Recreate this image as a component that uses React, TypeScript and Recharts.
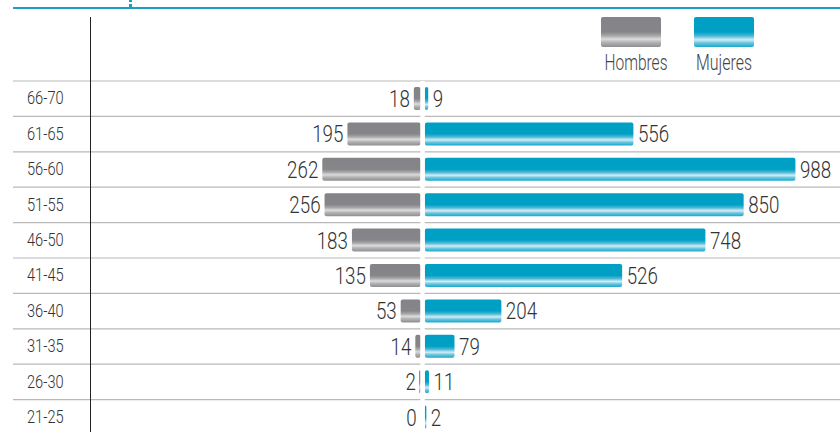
import React from "react";
import {
  BarChart,
  Bar,
  XAxis,
  YAxis,
  CartesianGrid,
  ReferenceLine,
  LabelList,
  Legend,
} from "recharts";

const ageGroups = ["66-70", "61-65", "56-60", "51-55", "46-50", "41-45", "36-40", "31-35", "26-30", "21-25"];
const hombres = [18, 195, 262, 256, 183, 135, 53, 14, 2, 0];
const mujeres = [9, 556, 988, 850, 748, 526, 204, 79, 11, 2];

const data = ageGroups.map((age, i) => ({
  age,
  hombresNeg: -hombres[i],
  mujeres: mujeres[i],
}));

// no condensed DIN here, so squeeze Roboto with textLength
const FONT = "Roboto, 'DejaVu Sans Condensed', sans-serif";
const TEXT = "#333333";
const DIGIT_W = 10.4;

const GRAY_CSS =
  "linear-gradient(to bottom, #848488 0%, #86868a 50%, #a6a6a8 62%, #dcdcdc 74%, #b4b4b6 84%, #8e8e92 100%)";
const BLUE_CSS =
  "linear-gradient(to bottom, #00a0c5 0%, #00a0c5 50%, #4db8d6 63%, #d2edf5 76%, #66c4de 87%, #1aa8cc 100%)";

function MenBar(props: any) {
  const { x, y, width, height, value } = props;
  const v = Array.isArray(value) ? value[1] - value[0] : value;
  if (!v) return null;
  const left = Math.min(x, x + width);
  const w = Math.max(Math.abs(width), 1.5);
  const right = left + Math.abs(width) - 2;
  return <rect x={right - w} y={y} width={w} height={height} rx={2} fill="url(#grayGrad)" />;
}

function WomenBar(props: any) {
  const { x, y, width, height, value } = props;
  const v = Array.isArray(value) ? value[1] - value[0] : value;
  if (!v) return null;
  const left = Math.min(x, x + width);
  const w = Math.max(Math.abs(width), 1.5);
  return <rect x={left + 2.3} y={y} width={w} height={height} rx={2} fill="url(#blueGrad)" />;
}

function ValueText({ x, y, anchor, label }: { x: number; y: number; anchor: "start" | "end"; label: string }) {
  return (
    <text
      x={x}
      y={y}
      textAnchor={anchor}
      fill={TEXT}
      fontSize={23}
      fontWeight={300}
      fontFamily={FONT}
      textLength={label.length * DIGIT_W}
      lengthAdjust="spacingAndGlyphs"
    >
      {label}
    </text>
  );
}

function MenLabel(props: any) {
  const { x, y, width, height, value } = props;
  const left = Math.min(x, x + width);
  return <ValueText x={left - 6} y={y + height / 2 + 8.5} anchor="end" label={String(Math.abs(value))} />;
}

function WomenLabel(props: any) {
  const { x, y, width, height, value } = props;
  const right = Math.max(x, x + width);
  const w = Math.max(Math.abs(width), 1.5);
  const end = value ? Math.min(x, x + width) + 2.3 + w : right + 2.3;
  return <ValueText x={end + 4.5} y={y + height / 2 + 8.5} anchor="start" label={String(value)} />;
}

function AgeTick(props: any) {
  const { x, y, payload } = props;
  return (
    <text
      x={x}
      y={y + 5.6}
      textAnchor="start"
      fill={TEXT}
      fontSize={17.5}
      fontWeight={300}
      fontFamily={FONT}
      textLength={36.6}
      lengthAdjust="spacingAndGlyphs"
    >
      {payload.value}
    </text>
  );
}

function Header(props: any) {
  const items = props.payload || [];
  const swatchLeft = [601, 694];
  const textW = [63, 56];
  return (
    <div style={{ position: "relative", width: 840, height: 81 }}>
      <div style={{ position: "absolute", left: 13, top: 7, width: 827, height: 2.2, background: "#1b9dc4" }} />
      <div style={{ position: "absolute", left: 129, top: 0, width: 3, height: 2, background: "#1b9dc4" }} />
      <div style={{ position: "absolute", left: 129, top: 4, width: 3, height: 4, background: "#1b9dc4" }} />
      {items.map((item: any, i: number) => (
        <div
          key={item.value}
          style={{
            position: "absolute",
            left: swatchLeft[i],
            top: 17,
            width: 60,
            height: 30,
            borderRadius: 2,
            background: item.dataKey === "mujeres" ? BLUE_CSS : GRAY_CSS,
          }}
        />
      ))}
      <svg width={840} height={81} style={{ position: "absolute", left: 0, top: 0 }}>
        {items.map((item: any, i: number) => (
          <text
            key={item.value}
            x={swatchLeft[i] + 30 + (i === 0 ? 5 : 0)}
            y={70}
            textAnchor="middle"
            fill="#444"
            fontSize={22}
            fontWeight={300}
            fontFamily={FONT}
            textLength={textW[i]}
            lengthAdjust="spacingAndGlyphs"
          >
            {item.value}
          </text>
        ))}
      </svg>
    </div>
  );
}

export default function App() {
  return (
    <div style={{ position: "absolute", left: 0, top: 0, width: 840, height: 432, overflow: "hidden", background: "#fff" }}>
      <BarChart
        width={840}
        height={435}
        data={data}
        layout="vertical"
        stackOffset="sign"
        barSize={23}
        margin={{ top: 0, right: 0, bottom: 0, left: 13 }}
      >
        <defs>
          <linearGradient id="grayGrad" x1="0" y1="0" x2="0" y2="1">
            <stop offset="0%" stopColor="#848488" />
            <stop offset="50%" stopColor="#86868a" />
            <stop offset="62%" stopColor="#a6a6a8" />
            <stop offset="74%" stopColor="#dcdcdc" />
            <stop offset="84%" stopColor="#b4b4b6" />
            <stop offset="100%" stopColor="#8e8e92" />
          </linearGradient>
          <linearGradient id="blueGrad" x1="0" y1="0" x2="0" y2="1">
            <stop offset="0%" stopColor="#00a0c5" />
            <stop offset="50%" stopColor="#00a0c5" />
            <stop offset="63%" stopColor="#4db8d6" />
            <stop offset="76%" stopColor="#d2edf5" />
            <stop offset="87%" stopColor="#66c4de" />
            <stop offset="100%" stopColor="#1aa8cc" />
          </linearGradient>
        </defs>
        <Legend verticalAlign="top" align="left" height={81} content={<Header />} wrapperStyle={{ top: 0, left: 0, width: 840, height: 81 }} />
        <CartesianGrid
          vertical={false}
          stroke="#b9b9b9"
          strokeWidth={1.2}
          horizontalCoordinatesGenerator={({ offset }: any) =>
            ageGroups.map((_, i) => offset.top + (i * offset.height) / ageGroups.length)
          }
        />
        <XAxis type="number" domain={[-1092, 1113]} hide allowDataOverflow />
        <YAxis
          type="category"
          dataKey="age"
          mirror
          axisLine={false}
          tickLine={false}
          tickSize={0}
          tickMargin={14}
          interval={0}
          tick={<AgeTick />}
        />
        <Bar dataKey="hombresNeg" name="Hombres" stackId="a" shape={<MenBar />} isAnimationActive={false}>
          <LabelList dataKey="hombresNeg" content={<MenLabel />} />
        </Bar>
        <Bar dataKey="mujeres" name="Mujeres" stackId="a" shape={<WomenBar />} isAnimationActive={false}>
          <LabelList dataKey="mujeres" content={<WomenLabel />} />
        </Bar>
        <ReferenceLine x={0} stroke="#ffffff" strokeWidth={4.3} />
      </BarChart>
      <div style={{ position: "absolute", left: 90, top: 17, width: 1.3, height: 420, background: "#222" }} />
    </div>
  );
}
